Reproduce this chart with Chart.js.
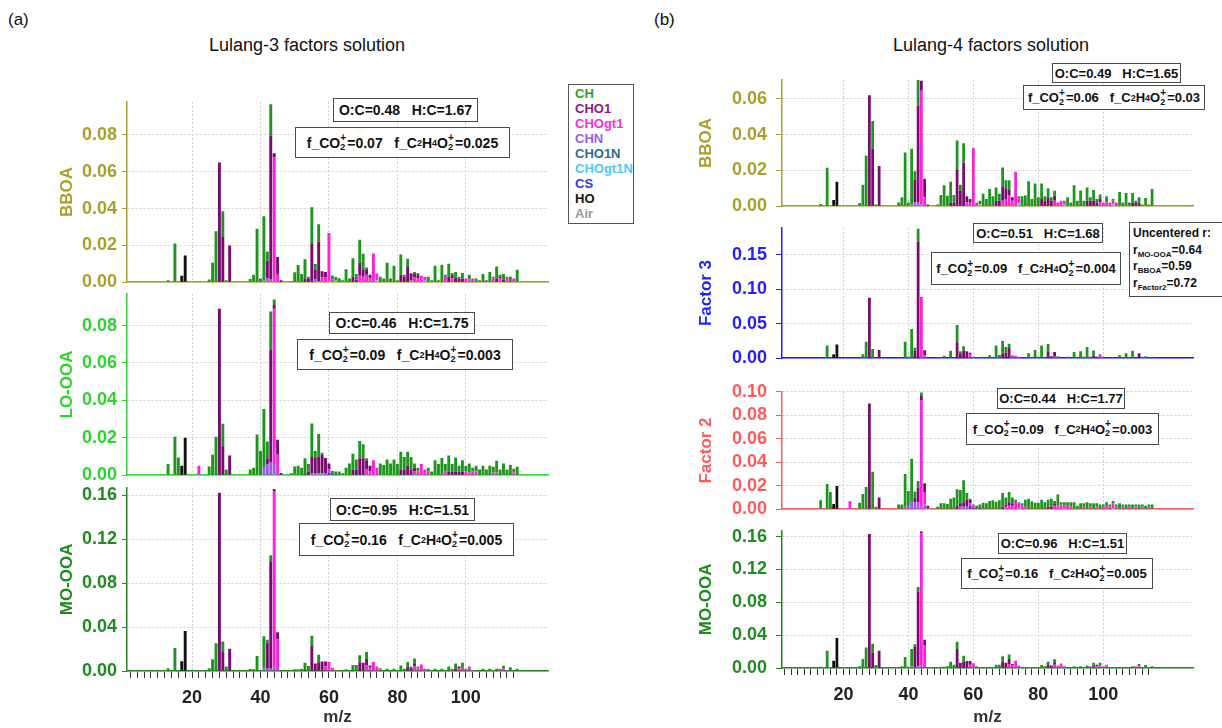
<!DOCTYPE html>
<html>
<head>
<meta charset="utf-8">
<script src="https://cdn.jsdelivr.net/npm/chart.js@4.4.1/dist/chart.umd.min.js"></script>
<style>
  html, body { margin: 0; padding: 0; background: #fff; }
  #stage { position: relative; width: 1222px; height: 728px; overflow: hidden;
           font-family: "Liberation Sans", Arial, sans-serif; color: #111; }
  #stage canvas { position: absolute; }
  .lbl  { position: absolute; font-size: 17px; }
  .ttl  { position: absolute; font-size: 18px; transform: translateX(-50%); white-space: nowrap; }
  .box  { position: absolute; box-sizing: border-box; border: 1.5px solid #4a4a4a; background: #fff;
          display: flex; align-items: center; justify-content: center; font-weight: bold;
          font-size: 14px; white-space: nowrap; z-index: 5; }
  .box.sm { font-size: 13px; }
  .box sub { font-size: 9px; vertical-align: -4px; line-height: 0; }
  .ss   { display: inline-block; position: relative; width: 7px; height: 10px; }
  .ss .p { position: absolute; left: 0; top: -6px; font-size: 10px; }
  .ss .s { position: absolute; left: 0; top: 4px; font-size: 9px; }
  #legend { position: absolute; left: 568px; top: 84px; width: 66px; height: 140px; box-sizing: border-box;
            border: 1.5px solid #555; padding: 1px 0 0 6px; font-weight: bold; font-size: 13px;
            line-height: 15px; z-index: 5; background: #fff; }
  #ucr { position: absolute; left: 1129px; top: 222px; width: 110px; height: 75px; box-sizing: border-box;
         border: 1.5px solid #4a4a4a; background: #fff; font-weight: bold; font-size: 12px;
         line-height: 16.5px; padding: 2px 0 0 3px; z-index: 5; white-space: nowrap; }
  #ucr sub { font-size: 8px; vertical-align: -3px; line-height: 0; }
</style>
</head>
<body>
<div id="stage">
  <div class="lbl" style="left:8px;top:10px">(a)</div>
  <div class="lbl" style="left:654px;top:10px">(b)</div>
  <div class="ttl" style="left:307px;top:35px">Lulang-3 factors solution</div>
  <div class="ttl" style="left:991px;top:35px">Lulang-4 factors solution</div>

  <div id="legend">
    <div style="color:#2a9e2a">CH</div>
    <div style="color:#8a1c7c">CHO1</div>
    <div style="color:#ff2fdc">CHOgt1</div>
    <div style="color:#9a5ce6">CHN</div>
    <div style="color:#2f6c8a">CHO1N</div>
    <div style="color:#50c8f8">CHOgt1N</div>
    <div style="color:#3434ff">CS</div>
    <div style="color:#111">HO</div>
    <div style="color:#999">Air</div>
  </div>

  <div class="box" style="left:333px;top:98px;width:145px;height:24px">O:C=0.48&nbsp;&nbsp;&nbsp;H:C=1.67</div>
  <div class="box" style="left:295px;top:127px;width:215px;height:31px">f_CO<span class="ss"><span class="p">+</span><span class="s">2</span></span>=0.07&nbsp;&nbsp;&nbsp;f_C<sub>2</sub>H<sub>4</sub>O<span class="ss"><span class="p">+</span><span class="s">2</span></span>=0.025</div>

  <div class="box" style="left:329px;top:312px;width:146px;height:22px">O:C=0.46&nbsp;&nbsp;&nbsp;H:C=1.75</div>
  <div class="box" style="left:297px;top:339px;width:216px;height:31px">f_CO<span class="ss"><span class="p">+</span><span class="s">2</span></span>=0.09&nbsp;&nbsp;&nbsp;f_C<sub>2</sub>H<sub>4</sub>O<span class="ss"><span class="p">+</span><span class="s">2</span></span>=0.003</div>

  <div class="box" style="left:330px;top:498px;width:145px;height:23px">O:C=0.95&nbsp;&nbsp;&nbsp;H:C=1.51</div>
  <div class="box" style="left:299px;top:523px;width:215px;height:33px">f_CO<span class="ss"><span class="p">+</span><span class="s">2</span></span>=0.16&nbsp;&nbsp;&nbsp;f_C<sub>2</sub>H<sub>4</sub>O<span class="ss"><span class="p">+</span><span class="s">2</span></span>=0.005</div>

  <div class="box sm" style="left:1052px;top:63px;width:129px;height:20px">O:C=0.49&nbsp;&nbsp;&nbsp;H:C=1.65</div>
  <div class="box sm" style="left:1023px;top:85px;width:182px;height:25px">f_CO<span class="ss"><span class="p">+</span><span class="s">2</span></span>=0.06&nbsp;&nbsp;&nbsp;f_C<sub>2</sub>H<sub>4</sub>O<span class="ss"><span class="p">+</span><span class="s">2</span></span>=0.03</div>

  <div class="box sm" style="left:973px;top:223px;width:130px;height:20px">O:C=0.51&nbsp;&nbsp;&nbsp;H:C=1.68</div>
  <div class="box sm" style="left:931px;top:252px;width:190px;height:33px">f_CO<span class="ss"><span class="p">+</span><span class="s">2</span></span>=0.09&nbsp;&nbsp;&nbsp;f_C<sub>2</sub>H<sub>4</sub>O<span class="ss"><span class="p">+</span><span class="s">2</span></span>=0.004</div>
  <div id="ucr">Uncentered r:<br>r<sub>MO-OOA</sub>=0.64<br>r<sub>BBOA</sub>=0.59<br>r<sub>Factor2</sub>=0.72</div>

  <div class="box sm" style="left:997px;top:388px;width:128px;height:21px">O:C=0.44&nbsp;&nbsp;&nbsp;H:C=1.77</div>
  <div class="box sm" style="left:966px;top:413px;width:193px;height:32px">f_CO<span class="ss"><span class="p">+</span><span class="s">2</span></span>=0.09&nbsp;&nbsp;&nbsp;f_C<sub>2</sub>H<sub>4</sub>O<span class="ss"><span class="p">+</span><span class="s">2</span></span>=0.003</div>

  <div class="box sm" style="left:998px;top:533px;width:129px;height:21px">O:C=0.96&nbsp;&nbsp;&nbsp;H:C=1.51</div>
  <div class="box sm" style="left:961px;top:558px;width:192px;height:31px">f_CO<span class="ss"><span class="p">+</span><span class="s">2</span></span>=0.16&nbsp;&nbsp;&nbsp;f_C<sub>2</sub>H<sub>4</sub>O<span class="ss"><span class="p">+</span><span class="s">2</span></span>=0.005</div>
</div>

<script>
// ── Ion families (stacking order, bottom → top) ──────────────────────────
const FAMILIES      = ['HO', 'CS', 'CHOgt1N', 'CHO1N', 'CHN', 'CHOgt1', 'CHO1', 'CH'];
const FAMILY_COLORS = ['#111111', '#3030ff', '#50c8f8', '#2c6c8c', '#9a5ce6', '#ff1fdc', '#7a0a70', '#1e961e'];

// ── (a) Lulang-3 : BBOA  — fraction of signal per m/z ────────────────────
const A1_HO      = {17:.0035, 18:.0145};
const A1_CHN     = {41:.0008, 42:.002, 43:.0015, 56:.0015, 57:.0007, 58:.0005};
const A1_CHOgt1N = {60:.0007, 62:.0008, 74:.001, 84:.0008, 88:.0008};
const A1_CHOgt1  = {22:.0005, 44:.068, 45:.004, 58:.002, 59:.0025, 60:.026, 61:.0016, 69:.0035, 70:.003, 71:.004, 72:.002,
                    73:.0156, 74:.0037, 85:.0025, 86:.002, 87:.0035, 88:.002, 94:.003, 96:.002, 100:.002, 101:.0015,
                    102:.002, 108:.002, 110:.002, 112:.002, 114:.002};
const A1_CHO1    = {28:.065, 29:.0246, 31:.020, 42:.0097, 43:.0782, 44:.002, 45:.0097, 46:.001, 53:.002, 54:.002, 55:.0211,
                    56:.0054, 57:.0213, 58:.0035, 59:.003, 67:.003, 68:.0015, 69:.007, 70:.004, 71:.003, 72:.002, 81:.004,
                    82:.003, 83:.0087, 84:.004, 85:.002, 86:.002, 95:.003, 96:.002, 97:.0025, 98:.002, 99:.002, 109:.002,
                    110:.001, 111:.0015};
const A1_CH      = {13:.001, 15:.021, 25:.0015, 26:.0105, 27:.0277, 29:.014, 30:.001, 37:.0017, 38:.004, 39:.029, 40:.002,
                    41:.035, 42:.005, 43:.017, 49:.0007, 50:.0054, 51:.0093, 52:.0045, 53:.0105, 54:.001, 55:.0196, 56:.003,
                    57:.0095, 61:.002, 62:.002, 63:.0022, 64:.001, 65:.007, 66:.002, 67:.010, 68:.003, 69:.0125, 70:.0085,
                    71:.001, 75:.003, 76:.002, 77:.0105, 78:.002, 79:.009, 80:.001, 81:.011, 82:.001, 83:.004, 85:.001,
                    86:.001, 89:.003, 90:.001, 91:.009, 92:.001, 93:.0095, 94:.001, 95:.007, 96:.001, 97:.003, 98:.001,
                    99:.003, 101:.0025, 103:.002, 104:.001, 105:.0045, 106:.001, 107:.0055, 108:.001, 109:.0065, 110:.001,
                    111:.003, 112:.001, 113:.003, 115:.0068};

// ── (a) LO-OOA ───────────────────────────────────────────────────────────
const A2_HO     = {17:.005, 18:.020};
const A2_CS     = {60:.0012, 61:.001, 62:.0008};
const A2_CHN    = {41:.004, 42:.006, 43:.007, 44:.006, 55:.0012, 56:.0012, 57:.001, 58:.001, 59:.0012, 60:.001};
const A2_CHOgt1 = {22:.005, 44:.083, 45:.011, 60:.001, 71:.003, 72:.002, 73:.008, 74:.004, 85:.002, 86:.002, 87:.006,
                   88:.003, 89:.002, 94:.002, 100:.002, 101:.0015, 102:.002, 103:.002, 108:.0015, 109:.0015, 114:.0015};
const A2_CHO1   = {28:.089, 29:.0155, 31:.0106, 42:.003, 43:.060, 44:.002, 45:.008, 46:.0012, 53:.001, 54:.002, 55:.0085,
                   56:.008, 57:.009, 58:.010, 59:.008, 60:.003, 67:.003, 68:.003, 69:.009, 70:.009, 71:.005, 72:.003,
                   81:.003, 82:.003, 83:.005, 84:.003, 85:.002, 95:.002, 96:.002, 97:.002, 98:.002, 99:.002};
const A2_CH     = {13:.006, 15:.0205, 16:.0094, 25:.0046, 26:.011, 27:.0205, 29:.012, 30:.003, 37:.003, 38:.004, 39:.0217,
                   40:.013, 41:.0314, 42:.009, 43:.0205, 44:.003, 49:.001, 50:.0046, 51:.005, 52:.004, 53:.008, 54:.004,
                   55:.018, 56:.0038, 57:.012, 58:.001, 61:.0012, 62:.0012, 63:.002, 64:.001, 65:.004, 66:.0063, 67:.0085,
                   68:.0054, 69:.0093, 70:.0076, 71:.001, 75:.0063, 76:.0055, 77:.0084, 78:.0063, 79:.0084, 80:.006,
                   81:.0096, 82:.0067, 83:.0076, 84:.0067, 85:.0023, 86:.002, 89:.002, 90:.002, 91:.008, 92:.006, 93:.0092,
                   94:.004, 95:.0086, 96:.004, 97:.0074, 98:.003, 99:.006, 100:.003, 101:.0048, 102:.002, 103:.003,
                   104:.003, 105:.005, 106:.003, 107:.005, 108:.003, 109:.0062, 110:.003, 111:.0063, 112:.003, 113:.0055,
                   114:.002, 115:.0045};

// ── (a) MO-OOA ───────────────────────────────────────────────────────────
const A3_HO     = {17:.009, 18:.0364};
const A3_CHN    = {41:.003, 42:.002, 43:.002, 44:.003, 45:.001};
const A3_CHOgt1 = {22:.001, 44:.161, 45:.0277, 59:.004, 60:.0083, 61:.003, 62:.001, 71:.005, 72:.003, 73:.0083, 74:.004,
                   75:.0015, 85:.004, 86:.003, 87:.006, 88:.002, 89:.002, 96:.002, 98:.002, 99:.003, 100:.002, 101:.003,
                   102:.001, 110:.002, 111:.002, 112:.001};
const A3_CHO1   = {28:.1626, 29:.0173, 31:.0203, 42:.024, 43:.0973, 44:.002, 45:.0066, 46:.001, 53:.001, 55:.0227,
                   56:.0069, 57:.008, 58:.0087, 59:.0047, 69:.008, 70:.0075, 71:.006, 72:.002, 83:.004, 84:.003, 85:.003,
                   97:.002, 98:.002};
const A3_CH     = {13:.0024, 15:.021, 25:.0024, 26:.0107, 27:.0254, 29:.0096, 30:.004, 37:.0018, 38:.0015, 39:.0137,
                   40:.001, 41:.0286, 42:.0026, 43:.0063, 49:.001, 50:.0015, 51:.0015, 52:.002, 53:.0065, 54:.0045,
                   55:.0095, 57:.0069, 63:.001, 64:.001, 65:.0015, 66:.001, 67:.0054, 68:.0054, 69:.0063, 71:.0063,
                   75:.001, 76:.001, 77:.002, 78:.001, 79:.002, 80:.001, 81:.005, 82:.002, 83:.0043, 84:.001, 85:.0043,
                   86:.001, 91:.002, 92:.001, 93:.002, 95:.004, 97:.0049, 99:.0045, 101:.001, 103:.001, 105:.002,
                   107:.002, 109:.002, 111:.0028, 113:.0035, 115:.002};

// ── (b) Lulang-4 : BBOA ──────────────────────────────────────────────────
const B1_HO      = {17:.0035, 18:.0137};
const B1_CHN     = {41:.001, 42:.002, 43:.002, 44:.001};
const B1_CHOgt1N = {62:.001, 74:.0015, 88:.001, 103:.001};
const B1_CHOgt1  = {22:.0007, 44:.0636, 45:.005, 58:.002, 59:.002, 60:.0327, 61:.002, 69:.003, 70:.004, 71:.006, 72:.003,
                    73:.0192, 74:.003, 85:.003, 86:.002, 87:.003, 88:.002, 99:.002, 100:.002, 101:.002, 102:.002,
                    103:.002, 104:.002};
const B1_CHO1    = {28:.062, 29:.0322, 31:.0225, 42:.013, 43:.0542, 44:.0055, 45:.0104, 46:.001, 53:.002, 54:.002,
                    55:.0203, 56:.0085, 57:.0245, 58:.0035, 59:.002, 67:.003, 68:.003, 69:.0082, 70:.006, 71:.003, 72:.002,
                    81:.004, 82:.003, 83:.005, 84:.003, 85:.003, 95:.003, 96:.003, 97:.003, 98:.002, 99:.002, 109:.002,
                    110:.002, 111:.002};
const B1_CH      = {13:.0013, 15:.0215, 25:.0018, 26:.012, 27:.0283, 29:.0154, 30:.001, 37:.002, 38:.005, 39:.030,
                    40:.002, 41:.0312, 42:.0045, 43:.0145, 49:.001, 50:.0063, 51:.0117, 52:.0058, 53:.0117, 54:.0043,
                    55:.0165, 56:.0035, 57:.0107, 62:.002, 63:.007, 64:.004, 65:.0096, 66:.0055, 67:.0074, 68:.004,
                    69:.0104, 70:.0045, 71:.0055, 74:.001, 75:.0055, 76:.006, 77:.014, 78:.004, 79:.0127, 80:.005,
                    81:.0087, 82:.0025, 83:.005, 84:.002, 85:.0026, 89:.005, 90:.002, 91:.0117, 92:.003, 93:.0088,
                    94:.003, 95:.0074, 96:.002, 97:.006, 98:.002, 99:.0026, 101:.0035, 103:.001, 105:.008, 106:.002,
                    107:.0074, 108:.002, 109:.0054, 110:.001, 111:.003, 112:.001, 113:.0046, 114:.001, 115:.0096};

// ── (b) Factor 3 ─────────────────────────────────────────────────────────
const B2_HO     = {17:.0056, 18:.0198};
const B2_CHOgt1 = {44:.0874, 45:.004, 59:.0058, 60:.002, 72:.002, 73:.0035, 74:.002, 85:.002, 86:.002, 99:.0058,
                   100:.002, 112:.002};
const B2_CHO1   = {28:.0875, 31:.012, 42:.011, 43:.1686, 44:.001, 45:.0076, 55:.023, 56:.007, 57:.011, 58:.010, 59:.002,
                   69:.006, 70:.008, 71:.016, 72:.002, 83:.010, 84:.003, 85:.007, 86:.001, 97:.004, 98:.002, 111:.007};
const B2_CH     = {13:.0005, 15:.0185, 26:.0056, 27:.0237, 29:.0134, 38:.001, 39:.024, 40:.002, 41:.0423, 42:.004,
                   43:.019, 50:.001, 51:.0035, 53:.0108, 55:.025, 56:.003, 57:.0062, 61:.001, 62:.001, 63:.002, 65:.0043,
                   66:.001, 67:.0185, 68:.005, 69:.019, 70:.0084, 71:.005, 77:.007, 78:.002, 79:.012, 80:.002, 81:.0185,
                   82:.002, 83:.0107, 89:.002, 91:.009, 92:.002, 93:.0099, 94:.002, 95:.0164, 96:.002, 97:.0072,
                   103:.001, 105:.0043, 106:.001, 107:.007, 108:.002, 109:.0108, 113:.003, 115:.002};

// ── (b) Factor 2 ─────────────────────────────────────────────────────────
const B3_HO      = {17:.0045, 18:.0197};
const B3_CS      = {59:.003, 60:.001, 62:.001};
const B3_CHOgt1N = {74:.001, 88:.001, 103:.001};
const B3_CHN     = {39:.002, 40:.003, 41:.007, 42:.006, 43:.006, 44:.002, 45:.004, 46:.001, 56:.002, 57:.002, 58:.002};
const B3_CHOgt1  = {22:.007, 44:.0905, 45:.010, 59:.002, 60:.002, 70:.002, 71:.003, 72:.003, 73:.007, 74:.004, 75:.003,
                    76:.002, 85:.003, 86:.003, 87:.004, 88:.002, 89:.003, 90:.002, 94:.002, 96:.002, 98:.002, 100:.002,
                    101:.003, 102:.002, 103:.004, 104:.002, 106:.002, 108:.002, 110:.002, 112:.002, 114:.002};
const B3_CHO1    = {28:.090, 31:.010, 42:.004, 43:.012, 44:.0045, 45:.008, 46:.002, 55:.003, 56:.003, 57:.004, 58:.006,
                    59:.003, 69:.002, 70:.002, 71:.003, 72:.002, 83:.002, 84:.002, 85:.002};
const B3_CH      = {13:.0076, 15:.0214, 16:.0146, 25:.0055, 26:.013, 27:.019, 29:.032, 30:.002, 37:.004, 38:.004, 39:.028,
                    40:.0126, 41:.036, 42:.005, 43:.006, 44:.0025, 49:.002, 50:.005, 51:.005, 52:.0045, 53:.0088, 54:.010,
                    55:.0139, 56:.0114, 57:.0187, 58:.0059, 59:.001, 60:.001, 61:.003, 62:.003, 63:.0055, 64:.005,
                    65:.007, 66:.0076, 67:.0063, 68:.0076, 69:.0119, 70:.006, 71:.0086, 72:.005, 73:.001, 74:.001,
                    75:.002, 76:.006, 77:.0088, 78:.0068, 79:.0055, 80:.0055, 81:.008, 82:.006, 83:.006, 84:.0068,
                    85:.002, 86:.0096, 87:.002, 88:.003, 89:.003, 90:.004, 91:.006, 92:.003, 93:.005, 94:.003, 95:.006,
                    96:.003, 97:.005, 98:.003, 99:.004, 100:.002, 101:.003, 102:.002, 103:.002, 104:.002, 105:.005,
                    106:.002, 107:.004, 108:.002, 109:.004, 110:.002, 111:.004, 112:.002, 113:.003, 114:.002, 115:.004};

// ── (b) MO-OOA ───────────────────────────────────────────────────────────
const B4_HO     = {17:.0088, 18:.0364};
const B4_CHN    = {41:.002, 42:.001, 43:.002, 44:.003};
const B4_CHOgt1 = {22:.0008, 44:.161, 45:.028, 59:.004, 60:.0058, 61:.002, 71:.005, 72:.003, 73:.0088, 74:.003,
                   85:.004, 86:.003, 87:.0055, 88:.002, 96:.002, 98:.002, 99:.003, 100:.002, 101:.003, 110:.002, 111:.002};
const B4_CHO1   = {28:.163, 29:.019, 31:.021, 42:.025, 43:.091, 44:.002, 45:.0065, 46:.001, 55:.023, 56:.0065, 57:.008,
                   58:.0084, 59:.0044, 69:.008, 70:.0065, 71:.006, 72:.002, 83:.004, 84:.003, 85:.003, 97:.002, 98:.002};
const B4_CH     = {13:.0015, 15:.0211, 25:.002, 26:.011, 27:.025, 29:.0105, 30:.0035, 37:.001, 38:.002, 39:.0134,
                   40:.0015, 41:.021, 42:.0028, 43:.0056, 50:.0015, 51:.0015, 52:.002, 53:.0077, 54:.004, 55:.0088,
                   57:.007, 67:.004, 68:.004, 69:.0062, 71:.0055, 81:.0035, 82:.002, 83:.0037, 85:.0037, 91:.002,
                   93:.002, 95:.003, 97:.0045, 99:.0035, 101:.001, 105:.001, 107:.001, 109:.002, 111:.003, 113:.0035,
                   115:.002};

// ── Axis tick positions ──────────────────────────────────────────────────
const X_GRID_TICKS   = [20, 40, 60, 80, 100];
const X_MINOR_STEP   = 2;
const X_MINOR_LAST   = 114;

// ── Panel layout ─────────────────────────────────────────────────────────
const OLIVE = '#aaa028', LIME = '#2ed42e', DKGREEN = '#1f8b1f', BLUE = '#1f1fff', SALMON = '#ff5a5a';
const GRID  = '#cfcfcf';

const LEFT  = { left: 53,  L: 127, R: 548,  xMin: 1,   xMax: 124,   tickLen: 5, tickPad: 5, titleBottom: 3 };
const RIGHT = { left: 692, L: 782, R: 1193, xMin: 1.1, xMax: 127.6, tickLen: 6, tickPad: 9, titleBottom: 0 };

const CHARTS = [
  { ...LEFT,  T: 98,  B: 286, yMax: .098,  minor: .01,  major: .02, title: 'BBOA',     color: OLIVE,
    data: { HO: A1_HO, CHN: A1_CHN, CHOgt1N: A1_CHOgt1N, CHOgt1: A1_CHOgt1, CHO1: A1_CHO1, CH: A1_CH } },
  { ...LEFT,  T: 290, B: 479, yMax: .097,  minor: .01,  major: .02, title: 'LO-OOA',   color: LIME,
    data: { HO: A2_HO, CS: A2_CS, CHN: A2_CHN, CHOgt1: A2_CHOgt1, CHO1: A2_CHO1, CH: A2_CH } },
  { ...LEFT,  T: 484, B: 671, yMax: .167,  minor: .02,  major: .04, title: 'MO-OOA',   color: DKGREEN, bottom: true,
    data: { HO: A3_HO, CHN: A3_CHN, CHOgt1: A3_CHOgt1, CHO1: A3_CHO1, CH: A3_CH } },
  { ...RIGHT, T: 72,  B: 214, yMax: .0707, minor: .01,  major: .02, title: 'BBOA',     color: OLIVE,
    data: { HO: B1_HO, CHN: B1_CHN, CHOgt1N: B1_CHOgt1N, CHOgt1: B1_CHOgt1, CHO1: B1_CHO1, CH: B1_CH } },
  { ...RIGHT, T: 220, B: 366, yMax: .189,  minor: .025, major: .05, title: 'Factor 3', color: BLUE,
    data: { HO: B2_HO, CHOgt1: B2_CHOgt1, CHO1: B2_CHO1, CH: B2_CH } },
  { ...RIGHT, T: 384, B: 517, yMax: .100,  minor: .01,  major: .02, title: 'Factor 2', color: SALMON,
    data: { HO: B3_HO, CS: B3_CS, CHOgt1N: B3_CHOgt1N, CHN: B3_CHN, CHOgt1: B3_CHOgt1, CHO1: B3_CHO1, CH: B3_CH } },
  { ...RIGHT, T: 523, B: 668, yMax: .167,  minor: .02,  major: .04, title: 'MO-OOA',   color: DKGREEN, bottom: true,
    data: { HO: B4_HO, CHN: B4_CHN, CHOgt1: B4_CHOgt1, CHO1: B4_CHO1, CH: B4_CH } },
];

// ── Helpers ──────────────────────────────────────────────────────────────
Chart.defaults.font.family = '"Liberation Sans", Arial, sans-serif';
Chart.defaults.animation = false;

const toPoints = (m) => Object.entries(m).map(([k, v]) => ({ x: +k, y: v }));
const onStep   = (v, step) => Math.abs(v / step - Math.round(v / step)) < 1e-6;

function yTicks(max, step) {
  const t = [];
  for (let i = 0; i * step <= max + 1e-9; i++) t.push({ value: +(i * step).toFixed(4) });
  return t;
}

function xTicks(bottom) {
  if (!bottom) return X_GRID_TICKS.map(v => ({ value: v }));
  const t = [];
  for (let v = X_MINOR_STEP; v <= X_MINOR_LAST; v += X_MINOR_STEP) t.push({ value: v });
  return t;
}

// ── One stacked-bar spectrum ─────────────────────────────────────────────
function makeChart(s) {
  const padTop = 12, padBottom = s.bottom ? 0 : 12, axisH = s.bottom ? 60 : 0, padRight = 6;
  const top    = s.T - padTop;
  const width  = s.R - s.left + padRight;
  const height = s.B - top + axisH + padBottom;

  const cv = document.createElement('canvas');
  cv.width = width; cv.height = height;
  cv.style.cssText = `left:${s.left}px;top:${top}px;width:${width}px;height:${height}px`;
  document.getElementById('stage').appendChild(cv);

  const datasets = FAMILIES.map((f, i) => ({
    label: f,
    data: toPoints(s.data[f] || {}),
    backgroundColor: FAMILY_COLORS[i],
    borderWidth: 0,
    categoryPercentage: 1,
    barPercentage: 0.85,
  })).filter(d => d.data.length);

  new Chart(cv, {
    type: 'bar',
    data: { datasets },
    options: {
      responsive: false,
      layout: { padding: { top: padTop, right: padRight, bottom: padBottom, left: 0 } },
      plugins: { legend: { display: false }, tooltip: { enabled: false } },
      scales: {
        x: {
          type: 'linear', min: s.xMin, max: s.xMax, stacked: true, offset: false,
          afterBuildTicks: sc => { sc.ticks = xTicks(s.bottom); },
          afterFit: sc => { sc.height = axisH; },
          grid: {
            offset: false,
            color: ctx => (ctx.tick && onStep(ctx.tick.value, 20)) ? GRID : 'rgba(0,0,0,0)',
            borderDash: [2, 2],
            drawTicks: !!s.bottom, tickLength: 7, tickColor: '#333', tickWidth: 1,
          },
          border: { color: s.color, width: 1.5, dash: [2, 2] },
          ticks: {
            display: !!s.bottom, autoSkip: false, maxRotation: 0, padding: 9,
            color: '#222', font: { size: 18, weight: 'bold' },
            callback: v => onStep(v, 20) ? String(v) : '',
          },
          title: {
            display: !!s.bottom, text: 'm/z', color: '#333',
            font: { size: 17, weight: 'bold' }, padding: { top: 0, bottom: s.titleBottom },
          },
        },
        y: {
          min: 0, max: s.yMax, stacked: true,
          afterBuildTicks: sc => { sc.ticks = yTicks(s.yMax, s.minor); },
          afterFit: sc => { sc.width = s.L - s.left; },
          grid: {
            color: ctx => (ctx.tick && onStep(ctx.tick.value, s.major)) ? GRID : 'rgba(0,0,0,0)',
            borderDash: [2, 2],
            drawTicks: true, tickLength: s.tickLen, tickColor: s.color, tickWidth: 1,
          },
          border: { color: s.color, width: 1.5, dash: [2, 2] },
          ticks: {
            color: s.color, padding: s.tickPad, font: { size: 18, weight: 'bold' },
            callback: v => onStep(v, s.major) ? v.toFixed(2) : '',
          },
          title: {
            display: true, text: s.title, color: s.color,
            font: { size: 17, weight: 'bold' }, padding: { top: 4, bottom: 0 },
          },
        },
      },
    },
  });
}

CHARTS.forEach(makeChart);
</script>
</body>
</html>
